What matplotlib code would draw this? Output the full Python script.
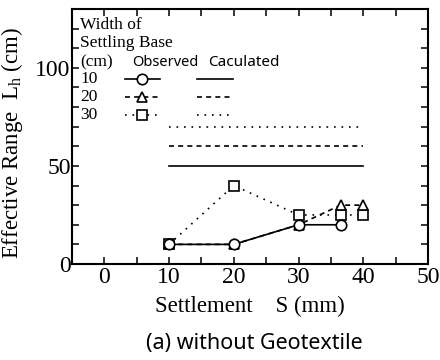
import matplotlib
matplotlib.use('Agg')
import matplotlib.pyplot as plt
from matplotlib.lines import Line2D
from matplotlib.ticker import MultipleLocator

SERIF = ['Liberation Serif', 'DejaVu Serif']
SANS = ['Noto Sans', 'DejaVu Sans']
plt.rcParams['font.family'] = SERIF
plt.rcParams['mathtext.fontset'] = 'custom'
plt.rcParams['mathtext.rm'] = 'Liberation Serif'

# observed effective range (cm) vs settlement (mm)
s_10 = [10, 20, 30, 36.5]
lh_10 = [10, 10, 20, 20]
s_20 = [10, 20, 30, 36.5, 40]
lh_20 = [10, 10, 20, 30, 30]
s_30 = [10, 20, 30, 36.5, 40]
lh_30 = [10, 40, 25, 25, 25]

# calculated effective range (constant over 10-40 mm)
calc_s = [10, 40]
calc_lh = {10: 50, 20: 60, 30: 70}

widths = ['10', '20', '30']
markers = ['o', '^', 's']
styles = ['-', (0, (3, 2.5)), (0, (1, 3.5))]

W, H = 440, 360
fig = plt.figure(figsize=(4.4, 3.6), dpi=100)
ax = fig.add_axes([72 / W, 1 - 264 / H, 356 / W, 255 / H])


def px(x, y):
    """pixel position -> figure fraction"""
    return x / W, 1 - y / H


mk = dict(markersize=7.5, markerfacecolor='white', markeredgecolor='black',
          markeredgewidth=1.2, color='black', linewidth=1.2)

# draw the square series first so the solid line sits on top
ax.plot(s_30, lh_30, linestyle=styles[2], marker=markers[2], zorder=3, **mk)
ax.plot(s_20, lh_20, linestyle=styles[1], marker=markers[1], zorder=4, **mk)
ax.plot(s_10, lh_10, linestyle=styles[0], marker=markers[0], zorder=5, **mk)

for w, ls in zip([10, 20, 30], styles):
    ax.plot(calc_s, [calc_lh[w]] * 2, linestyle=ls, color='black', linewidth=1.2)

ax.set_xlim(-5, 50)
ax.set_ylim(0, 130)
ax.xaxis.set_major_locator(MultipleLocator(10))
ax.xaxis.set_minor_locator(MultipleLocator(5))
ax.yaxis.set_major_locator(MultipleLocator(50))
ax.yaxis.set_minor_locator(MultipleLocator(10))
ax.tick_params(which='both', direction='in', top=True, right=True,
               length=5, width=1.1, labelsize=17)
ax.tick_params(axis='x', pad=2)
ax.tick_params(axis='y', pad=1)
for sp in ax.spines.values():
    sp.set_linewidth(1.5)

ax.set_xlabel('Settlement    S (mm)', fontsize=16.5, labelpad=6)
ax.set_ylabel('Effective Range  L$_{\\rm h}$ (cm)', fontsize=16.5, labelpad=0)
ax.yaxis.set_label_coords(-(72 - 25) / 356, 0.5 - 6 / 255)
fig.text(254 / W, px(0, 343)[1], '(a) without Geotextile',
         ha='center', va='center', fontsize=15.5, family=SANS)

# hand-made legend block in the upper left
lg = dict(fontsize=12.5, va='center', ha='left', transform=fig.transFigure)
fig.text(*px(80, 25), 'Width of', **lg)
fig.text(*px(80, 43), 'Settling Base', **lg)
fig.text(*px(80, 62), '(cm)', **lg)
fig.text(*px(132, 62), 'Observed', family=SANS,
         **{**lg, 'fontsize': 10.5})
fig.text(*px(208, 62), 'Caculated', family=SANS,
         **{**lg, 'fontsize': 11})
for i, (w, m, ls) in enumerate(zip(widths, markers, styles)):
    y = 79 + 18 * i
    fig.text(*px(80, y), w, **lg)
    x0, yy = px(125, y)
    x1, _ = px(160, y)
    xm, _ = px(142, y)
    fig.add_artist(Line2D([x0, x1], [yy, yy], linestyle=ls, color='black',
                          linewidth=1.2, transform=fig.transFigure))
    fig.add_artist(Line2D([xm], [yy], marker=m, linestyle='none',
                          transform=fig.transFigure,
                          **{k: v for k, v in mk.items()
                             if k not in ('linewidth', 'color')}))
    c0, _ = px(197, y)
    c1, _ = px(233, y)
    fig.add_artist(Line2D([c0, c1], [yy, yy], linestyle=ls, color='black',
                          linewidth=1.2, transform=fig.transFigure))

fig.savefig('out.png', dpi=100)
